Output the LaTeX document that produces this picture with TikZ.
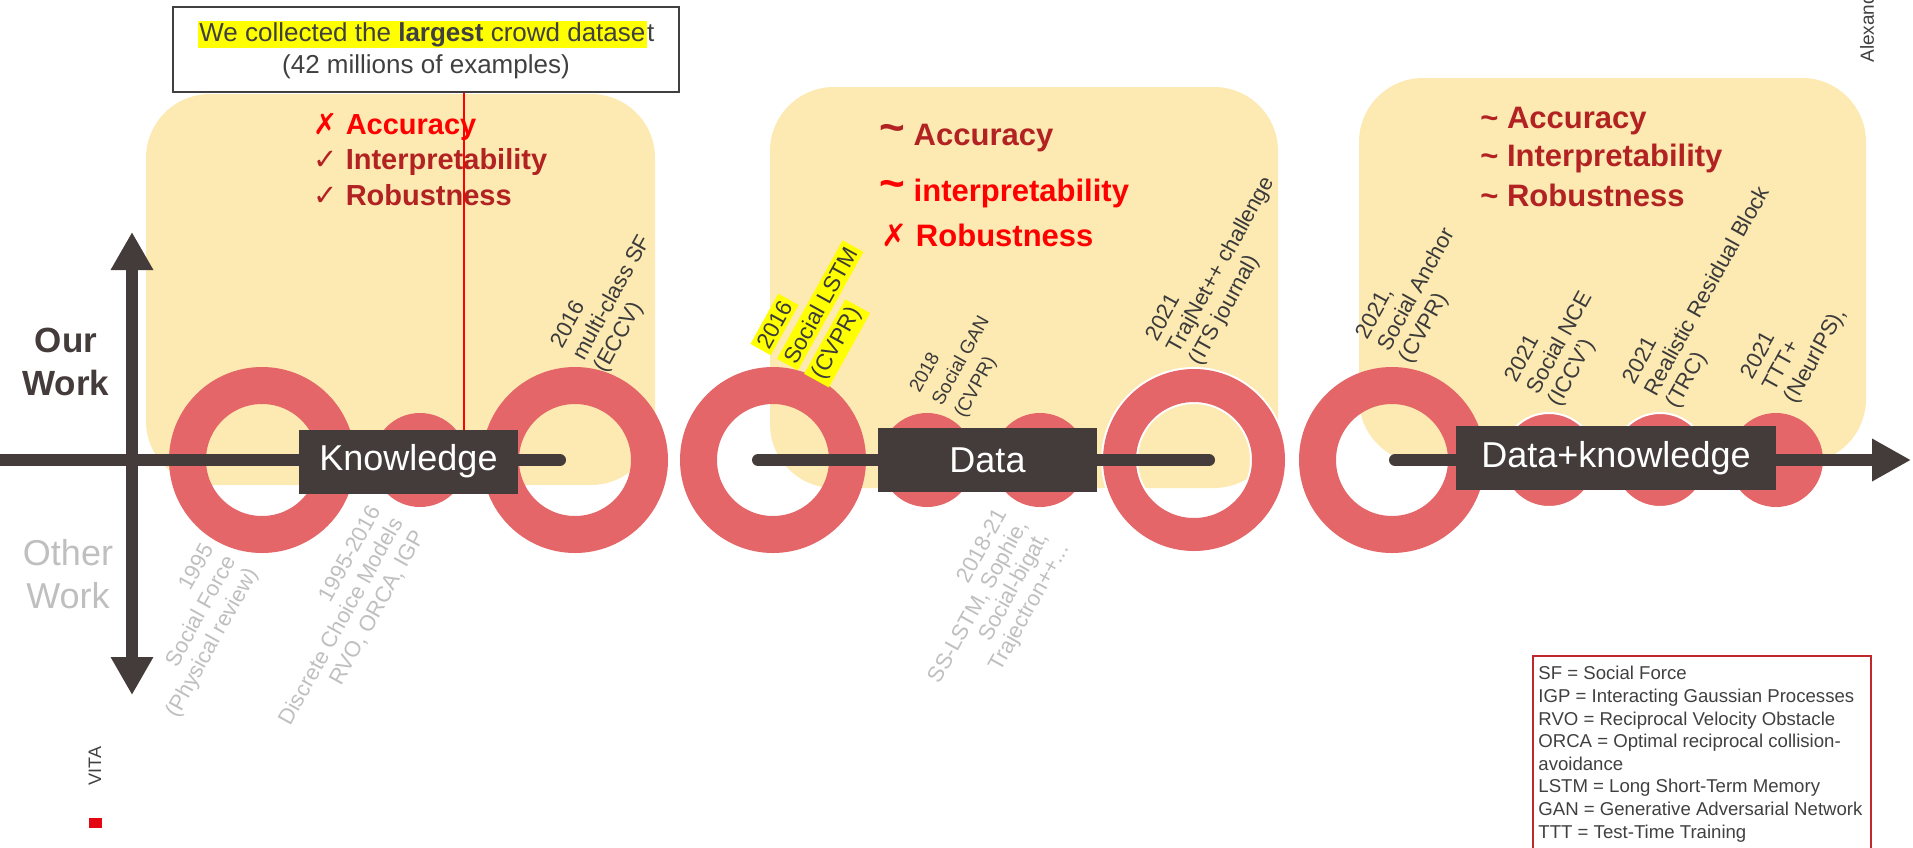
\documentclass[tikz,border=0pt]{standalone}
\usepackage{fontspec}
\setmainfont{Liberation Sans}
\newfontfamily\symfont{DejaVu Sans}
\usetikzlibrary{arrows.meta}

\definecolor{axisgray}{RGB}{67,60,58}
\definecolor{ringred}{RGB}{228,102,105}
\definecolor{paleyellow}{RGB}{253,233,178}
\definecolor{textgray}{RGB}{64,64,64}
\definecolor{labeldark}{RGB}{58,58,58}
\definecolor{lightgray}{RGB}{191,191,191}
\definecolor{darkred}{RGB}{178,34,34}
\definecolor{brightred}{RGB}{255,0,0}
\definecolor{legendred}{RGB}{192,40,45}
\definecolor{vitared}{RGB}{227,6,19}
\definecolor{marker}{RGB}{255,255,0}

\newcommand{\ck}{{\symfont\mdseries ✓}}
\newcommand{\xk}{{\symfont\mdseries ✗}}
\newcommand{\bigtilde}{{\fontsize{22}{22}\selectfont\raisebox{1.5pt}{\textasciitilde}}}
\newcommand{\hlbox}[1]{{\setlength{\fboxsep}{0.8pt}\colorbox{marker}{#1}}}
\newcommand{\hlwide}[1]{{\setlength{\fboxsep}{1.8pt}\colorbox{marker}{#1}}}

\begin{document}
\begin{tikzpicture}[x=0.5pt,y=-0.5pt,
  panel/.style={fill=paleyellow, rounded corners=32pt},
  ring/.style={circle, draw=ringred, line width=18.5pt, minimum size=74.5pt, inner sep=0pt},
  ringw/.style={circle, draw=white, double=ringred, line width=1pt, double distance=16.5pt, minimum size=74.5pt, inner sep=0pt},
  dot/.style={circle, fill=ringred, minimum size=47pt, inner sep=0pt},
  dotw/.style={dot, draw=white, line width=1pt},
  axisline/.style={draw=axisgray, line width=6pt, line cap=round},
  stage/.style={fill=axisgray, text=white, minimum height=32pt, inner sep=0pt, font=\fontsize{18}{20}\selectfont},
  claim/.style={anchor=west, inner sep=0pt, font=\fontsize{15.5}{18}\selectfont\bfseries},
  toplabel/.style={rotate=61, anchor=south west, align=left, inner sep=0pt, text=labeldark, font=\fontsize{11}{12.5}\selectfont},
  botlabel/.style={rotate=61, anchor=north east, align=right, inner sep=0pt, text=lightgray, font=\fontsize{11}{12.5}\selectfont}
]
\useasboundingbox (0,0) rectangle (1913,847);
\clip (0,0) rectangle (1913,847);

% era panels
\fill[panel] (146,94) rectangle (655,485);
\fill[panel] (770,87) rectangle (1278,488);
\fill[panel] (1359,78) rectangle (1866,463);

% dataset note
\node[draw=textgray, line width=0.9pt, minimum width=253pt, minimum height=42.5pt, inner sep=0pt,
      align=center, text=textgray, font=\fontsize{13}{16}\selectfont] (note) at (426,49.5)
  {\hlbox{We collected the \textbf{largest} crowd datase}t\\(42 millions of examples)};

% milestones: rings are main works, dots are smaller ones
\node[ring] (r1) at (262,460) {};
\node[dot]  (d1) at (420,460) {};
\node[ring] (r2) at (575,460) {};
\node[ring] (r3) at (773,460) {};
\node[dot]  (d2) at (927,460) {};
\node[dot]  (d3) at (1040,460) {};
\node[ringw] (r4) at (1194,460) {};
\node[ring] (r5) at (1392,460) {};
\node[dotw] (d4) at (1549,460) {};
\node[dotw] (d5) at (1660,460) {};
\node[dot]  (d6) at (1776,460) {};

% axes
\coordinate (hstart) at (-20,460);
\coordinate (kend) at (560,460);
\coordinate (dstart) at (758,460);
\coordinate (dend) at (1209,460);
\coordinate (dkstart) at (1395,460);
\coordinate (tip) at (1911,460);
\coordinate (vbot) at (132,695);
\coordinate (vtop) at (132,232);
\draw[axisline] (hstart) -- (kend);
\draw[axisline] (dstart) -- (dend);
\draw[axisline, -{Triangle[length=19.5pt, width=20pt]}] (dkstart) -- (tip);
\draw[axisline, line cap=butt, {Triangle[length=19pt, width=20pt]}-{Triangle[length=19pt, width=20pt]}] (vbot) -- (vtop);

% stage boxes
\node[stage, minimum width=109.5pt] (know) at (408.5,461.5) {Knowledge};
\node[stage, minimum width=109.5pt] (data) at (987.5,460) {Data};
\node[stage, minimum width=160pt] (dk) at (1616,458) {Data+knowledge};

% axis captions
\node[align=center, text=axisgray, inner sep=0pt, font=\fontsize{17.5}{21.5}\selectfont\bfseries] (ours) at (66,362) {Our\\Work};
\node[align=center, text=lightgray, inner sep=0pt, font=\fontsize{18}{21.5}\selectfont] (others) at (68,574) {Other\\Work};

% properties of each era
\node[claim, text=brightred, font=\fontsize{14.5}{17}\selectfont\bfseries] (k1) at (313,127) {\xk\ Accuracy};
\node[claim, text=darkred, font=\fontsize{14.5}{17}\selectfont\bfseries] (k2) at (313,162) {\ck\ Interpretability};
\node[claim, text=darkred, font=\fontsize{14.5}{17}\selectfont\bfseries] (k3) at (313,195) {\ck\ Robustness};

\node[claim, text=darkred] (p1) at (879,138) {\bigtilde\ Accuracy};
\node[claim, text=brightred] (p2) at (879,193) {\bigtilde\ interpretability};
\node[claim, text=brightred] (p3) at (881,235) {\xk\ Robustness};

\node[claim, text=darkred] (q1) at (1480,121) {\textasciitilde\ Accuracy};
\node[claim, text=darkred] (q2) at (1480,158) {\textasciitilde\ Interpretability};
\node[claim, text=darkred] (q3) at (1480,195) {\textasciitilde\ Robustness};

% pointer from the note to the first stage
\coordinate (pin) at (464,430);
\draw[brightred, line width=0.75pt] (note.south -| pin) -- (pin);

% publications above the axis
\node[toplabel] (lab-msf) at (610,376) {2016\\multi-class SF\\(ECCV)};
\node[toplabel, font=\fontsize{11.3}{15.5}\selectfont] (lab-slstm) at (829,388) {\hlwide{2016}\\\hlwide{Social LSTM}\\\hlwide{(CVPR)}};
\node[toplabel, font=\fontsize{9.5}{12.8}\selectfont] (lab-sgan) at (968,421) {2018\\Social GAN\\(CVPR)};
\node[toplabel] (lab-traj) at (1205,369) {2021\\TrajNet++ challenge\\(ITS journal)};
\node[toplabel] (lab-anchor) at (1415,367) {2021,\\Social Anchor\\(CVPR)};
\node[toplabel] (lab-nce) at (1564,410) {2021\\Social NCE\\(ICCV')};
\node[toplabel] (lab-rrb) at (1682,412) {2021\\Realistic Residual Block\\(TRC)};
\node[toplabel] (lab-ttt) at (1800,407) {2021\\TTT+\\(NeurIPS),};

% other works below the axis
\node[botlabel] (lab-sf) at (201,541) {1995\\Social Force\\(Physical review)};
\node[botlabel] (lab-dcm) at (368,503) {1995-2016\\Discrete Choice Models\\RVO, ORCA, IGP};
\node[botlabel, font=\fontsize{11}{11.8}\selectfont] (lab-oth) at (994,506) {2018-21\\SS-LSTM, Sophie,\\Social-bigat,\\Trajectron++...};

% abbreviations
\draw[legendred, line width=0.8pt] (1533,870) -- (1533,656) -- (1871,656) -- (1871,870);
\node[anchor=north west, align=left, inner sep=0pt, text=textgray, font=\fontsize{9.3}{11.3}\selectfont] (legend) at (1538,666)
  {SF = Social Force\\
   IGP = Interacting Gaussian Processes\\
   RVO = Reciprocal Velocity Obstacle\\
   ORCA = Optimal reciprocal collision-\\
   avoidance\\
   LSTM = Long Short-Term Memory\\
   GAN = Generative Adversarial Network\\
   TTT = Test-Time Training};

% footer and margin marks
\node[rotate=90, inner sep=0pt, text=textgray, font=\fontsize{9}{10}\selectfont] (vita) at (95,766) {VITA};
\fill[vitared] (89,818) rectangle (102,828);
\node[rotate=90, anchor=west, inner sep=0pt, text=textgray, font=\fontsize{9.5}{10}\selectfont] (author) at (1867,63) {Alexand};
\end{tikzpicture}
\end{document}
